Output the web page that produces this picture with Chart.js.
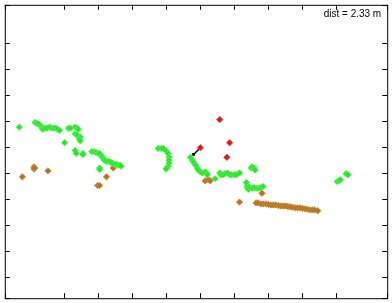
<!DOCTYPE html>
<html>
<head>
<meta charset="utf-8">
<script src="https://cdn.jsdelivr.net/npm/chart.js@4"></script>
<style>
  body { margin: 0; background: #fff; }
</style>
</head>
<body>
<canvas id="scan" width="392" height="303"></canvas>
<script>
'use strict';

// scan points in metres, [x, y]
var greenPoints = [
  [-0.32,5.75],
  [0.14,5.93],[0.17,5.90],[0.20,5.90],[0.26,5.86],[0.32,5.78],[0.35,5.71],[0.37,5.67],[0.43,5.71],
  [0.49,5.71],[0.57,5.75],[0.63,5.71],[0.69,5.71],[0.75,5.71],[0.80,5.67],[0.86,5.63],
  [1.12,5.71],[1.18,5.71],
  [1.32,5.75],[1.38,5.71],[1.41,5.67],[1.32,5.49],[1.38,5.45],[1.47,5.37],[1.44,5.30],[1.47,5.22],
  [1.01,5.15],
  [1.32,4.85],[1.35,4.74],[1.55,4.74],[1.55,4.70],
  [1.81,4.81],[1.87,4.81],[1.93,4.78],[1.99,4.74],[2.04,4.74],[2.10,4.63],[2.13,4.59],[2.16,4.52],
  [2.18,4.48],[2.24,4.44],[2.30,4.44],[2.36,4.40],[2.41,4.37],[2.47,4.33],[2.53,4.33],[2.58,4.29],
  [2.64,4.29],[2.67,4.25],
  [2.04,4.18],[2.04,4.12],
  [3.76,4.93],[3.85,4.93],[3.91,4.93],[3.99,4.85],[4.05,4.74],[4.08,4.59],[4.08,4.48],[4.08,4.37],
  [4.05,4.25],[4.02,4.18],[3.99,4.14],
  [4.71,4.59],[4.77,4.48],[4.80,4.40],[4.86,4.29],[4.91,4.18],[4.94,4.10],[5.00,4.03],[5.06,3.99],
  [5.14,4.03],[5.20,3.96],[5.20,3.92],
  [5.43,3.77],
  [5.57,3.99],[5.60,3.92],[5.66,3.92],[5.72,3.96],[5.80,3.99],[5.86,3.92],[5.92,3.92],[6.00,3.92],
  [6.06,3.92],[6.15,3.99],
  [6.49,4.18],[6.52,4.22],[6.58,4.18],[6.61,4.10],
  [6.35,3.62],[6.38,3.51],[6.38,3.43],[6.41,3.36],[6.44,3.43],[6.52,3.40],[6.58,3.43],[6.66,3.40],
  [6.72,3.40],[6.78,3.43],[6.84,3.47],
  [9.02,3.66],[9.08,3.69],[9.11,3.73],[9.28,3.96],[9.34,3.92]
];

var brownPoints = [
  [-0.23,3.84],
  [0.11,4.22],[0.11,4.14],[0.13,4.18],
  [0.52,4.07],
  [1.98,3.51],[2.04,3.51],
  [2.24,3.84],
  [2.44,4.18],
  [5.14,3.69],[5.23,3.73],[5.29,3.69],
  [6.15,2.87],
  [6.81,3.21],
  [6.64,2.84],[6.70,2.84],[6.78,2.80],[6.85,2.80],[6.93,2.80],[7.00,2.78],[7.07,2.76],[7.14,2.76],
  [7.21,2.76],[7.29,2.74],[7.36,2.72],[7.43,2.72],[7.50,2.72],[7.57,2.70],[7.64,2.69],[7.71,2.67],
  [7.79,2.65],[7.86,2.65],[7.93,2.65],[8.00,2.63],[8.07,2.61],[8.14,2.60],[8.22,2.57],[8.29,2.57],
  [8.36,2.57],[8.45,2.54]
];

var redPoints = [[5.00,4.96],[5.57,6.04],[5.86,5.15],[5.78,4.59]];

var robotPath = [[4.80,4.70],[5.00,4.96]];

var xRange = [-0.747, 10.49];
var yRange = [-0.821, 10.448];
var distLabel = 'dist = 2.33 m';

var toXY = function(list){
  return list.map(function(p){ return { x: p[0], y: p[1] }; });
};

var createScatterDataset = function(data, color, edge){
  return {
    data: toXY(data), showLine: false,
    pointStyle: 'rectRot', pointRadius: 3.2, pointBorderWidth: 0.8,
    backgroundColor: color, borderColor: edge
  };
};

var hiddenAxis = function(range){
  return {
    type: 'linear', min: range[0], max: range[1],
    ticks: { display: false, stepSize: 1 },
    grid: { display: false, drawTicks: false },
    border: { display: false }
  };
};

// frame, inward tick marks and the distance label
var framePlugin = {
  id: 'frame',
  afterDraw: function(chart){
    var ctx = chart.ctx, a = chart.chartArea;
    var xs = chart.scales.x, ys = chart.scales.y;
    ctx.save();
    ctx.strokeStyle = '#000';
    ctx.lineWidth = 1;
    ctx.beginPath();
    xs.ticks.forEach(function(t){
      var px = Math.round(xs.getPixelForValue(t.value)) + 0.5;
      ctx.moveTo(px, a.bottom); ctx.lineTo(px, a.bottom - 5);
      ctx.moveTo(px, a.top); ctx.lineTo(px, a.top + 5);
    });
    ys.ticks.forEach(function(t){
      var py = Math.round(ys.getPixelForValue(t.value)) + 0.5;
      ctx.moveTo(a.left, py); ctx.lineTo(a.left + 5, py);
      ctx.moveTo(a.right, py); ctx.lineTo(a.right - 5, py);
    });
    ctx.stroke();
    ctx.strokeRect(a.left + 0.5, a.top + 0.5, a.right - a.left, a.bottom - a.top);
    ctx.fillStyle = '#000';
    ctx.font = '10px "Liberation Sans", Arial, sans-serif';
    ctx.textAlign = 'right';
    ctx.textBaseline = 'alphabetic';
    ctx.fillText(distLabel, a.right - 6, a.top + 12);
    ctx.restore();
  }
};

new Chart(document.querySelector('#scan'), {
  type: 'scatter',
  data: {
    datasets: [
      createScatterDataset(greenPoints, '#22ea22', '#5cf05c'),
      createScatterDataset(brownPoints, '#b8731c', '#c88a3c'),
      createScatterDataset(redPoints, '#e01818', '#e84848'),
      {
        data: toXY(robotPath), showLine: true,
        borderColor: '#000', borderWidth: 1.5,
        pointStyle: 'rect', pointRadius: [2, 0], pointBorderWidth: 0,
        backgroundColor: '#000'
      }
    ]
  },
  options: {
    responsive: false, animation: false,
    layout: { padding: { left: 0, top: 0, right: 1, bottom: 1 } },
    plugins: { legend: { display: false }, tooltip: { enabled: false } },
    scales: { x: hiddenAxis(xRange), y: hiddenAxis(yRange) }
  },
  plugins: [framePlugin]
});
</script>
</body>
</html>
